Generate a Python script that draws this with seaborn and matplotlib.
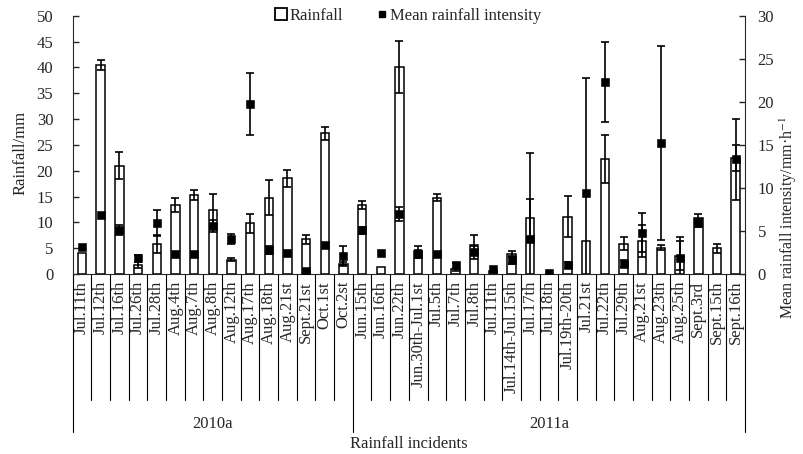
import numpy as np
import pandas as pd
import matplotlib
matplotlib.use("Agg")
import matplotlib.pyplot as plt
import seaborn as sns
from matplotlib.lines import Line2D
from matplotlib.transforms import blended_transform_factory

# %% data
labels_2010 = ["Jul.11th", "Jul.12th", "Jul.16th", "Jul.26th", "Jul.28th", "Aug.4th",
               "Aug.7th", "Aug.8th", "Aug.12th", "Aug.17th", "Aug.18th", "Aug.21st",
               "Sept.21st", "Oct.1st", "Oct.2st"]
rain_2010 = [4.1, 40.5, 21.0, 1.8, 5.8, 13.4, 15.3, 12.3, 2.8, 9.8, 14.8, 18.5, 6.7, 27.2, 2.0]
rain_err_2010 = [0, 1.0, 2.7, 0.6, 1.7, 1.4, 1.0, 3.2, 0.3, 1.8, 3.4, 1.6, 0.8, 1.2, 0.3]
int_2010 = [3.1, 6.8, 5.1, 1.8, 5.9, 2.3, 2.3, 5.6, 4.1, 19.7, 2.8, 2.4, 0.4, 3.4, 2.1]
int_err_2010 = [0, 0, 0.6, 0.4, 1.5, 0, 0, 0.7, 0.6, 3.6, 0.5, 0, 0, 0, 1.2]

labels_2011 = ["Jun.15th", "Jun.16th", "Jun.22th", "Jun.30th-Jul.1st", "Jul.5th", "Jul.7th",
               "Jul.8th", "Jul.11th", "Jul.14th-Jul.15th", "Jul.17th", "Jul.18th",
               "Jul.19th-20th", "Jul.21st", "Jul.22th", "Jul.29th", "Aug.21st", "Aug.23th",
               "Aug.25th", "Sept.3rd", "Sept.15th", "Sept.16th"]
rain_2011 = [13.4, 1.4, 40.1, 4.5, 14.8, 0.9, 5.6, 0.5, 3.9, 10.8, 0.0, 11.1, 6.4, 22.3,
             5.9, 6.4, 5.1, 3.5, 10.9, 5.0, 22.5]
rain_err_2011 = [0.8, 0, 5.0, 0.9, 0.6, 0.3, 1.9, 0, 0.5, 3.8, 0, 4.0, 0, 4.6, 1.2, 3.1,
                 0.5, 2.8, 0.8, 0.9, 2.5]
int_2011 = [5.1, 2.4, 7.0, 2.3, 2.3, 1.0, 2.5, 0.6, 1.6, 4.1, 0.15, 1.05, 9.4, 22.3, 1.2,
            4.8, 15.2, 1.8, 5.9, np.nan, 13.3]
int_err_2011 = [0.4, 0, 0.8, 0.5, 0, 0.3, 0.8, 0, 0.4, 10.0, 0, 0.4, 13.4, 4.7, 0.4, 2.3,
                11.3, 2.5, 0.5, 0, 4.7]

groups = ["2010a", "2011a"]

# %%
labels = labels_2010 + labels_2011
df = pd.DataFrame({
    "pos": np.arange(len(labels)),
    "rain": rain_2010 + rain_2011,
    "rain_err": rain_err_2010 + rain_err_2011,
    "intensity": int_2010 + int_2011,
    "int_err": int_err_2010 + int_err_2011,
})

sns.set_style("ticks")
plt.rcParams["font.family"] = ["Liberation Serif", "DejaVu Serif"]
plt.rcParams["mathtext.fontset"] = "stix"
plt.rcParams["font.size"] = 12

fig, ax = plt.subplots(figsize=(8.04, 4.54), dpi=100)
fig.subplots_adjust(left=0.0904, right=0.9266, top=0.9654, bottom=0.3965)

sns.barplot(data=df, x="pos", y="rain", color="white", edgecolor="black", linewidth=1.1,
            width=0.45, saturation=1, errorbar=None, ax=ax)
e = df[df.rain_err > 0]
ax.errorbar(e.pos, e.rain, yerr=e.rain_err, fmt="none", ecolor="black", elinewidth=1.2,
            capsize=2.6, capthick=1.2, zorder=3)

ax2 = ax.twinx()
e2 = df[df.int_err > 0]
ax2.errorbar(e2.pos, e2.intensity, yerr=e2.int_err, fmt="none", ecolor="black",
             elinewidth=1.2, capsize=2.6, capthick=1.2)
sns.scatterplot(data=df, x="pos", y="intensity", marker="s", color="black", s=28,
                edgecolor="black", ax=ax2, zorder=4)

ax.set_ylim(0, 50)
ax.set_yticks(range(0, 51, 5))
ax2.set_ylim(0, 30)
ax2.set_yticks(range(0, 31, 5))
ax.set_xlim(-0.5, len(labels) - 0.5)
ax2.set_xlim(-0.5, len(labels) - 0.5)

for a in (ax, ax2):
    a.spines["top"].set_visible(False)
ax.tick_params(axis="y", direction="in", length=4, width=1, labelsize=12, pad=14)
ax2.tick_params(axis="y", direction="in", length=4, width=1, labelsize=12, pad=9)
ax.spines["right"].set_visible(False)
ax2.spines["left"].set_visible(False)
ax2.spines["bottom"].set_visible(False)

ax.set_xticks(df.pos)
ax.set_xticklabels(labels, rotation=90, fontsize=12, va="top")
ax.tick_params(axis="x", length=0, pad=5)
ax.set_xlabel("")
ax2.set_xlabel("")
ax.set_ylabel("Rainfall/mm", fontsize=12)
ax.yaxis.set_label_coords(-0.066, 0.47)
ax2.set_ylabel("Mean rainfall intensity/mm·h$^{-1}$", fontsize=11.5)
ax2.yaxis.set_label_coords(1.048, 0.22)

# separators under the axis
tr = blended_transform_factory(ax.transData, ax.transAxes)
n2010 = len(labels_2010)
for b in np.arange(len(labels) + 1) - 0.5:
    low = -0.612 if b in (-0.5, n2010 - 0.5, len(labels) - 0.5) else -0.488
    ax.add_line(Line2D([b, b], [0, low], transform=tr, color="black", lw=0.8,
                       clip_on=False))
ax.text((n2010 - 1) / 2, -0.58, groups[0], transform=tr, ha="center", va="center",
        fontsize=12)
ax.text(n2010 + (len(labels_2011) - 1) / 2, -0.58, groups[1], transform=tr,
        ha="center", va="center", fontsize=12)
ax.text(0.5, -0.66, "Rainfall incidents", transform=ax.transAxes, ha="center",
        va="center", fontsize=12)

handles = [
    Line2D([], [], marker="s", color="none", markerfacecolor="white",
           markeredgecolor="black", markersize=8, markeredgewidth=1.3),
    Line2D([], [], marker="s", color="none", markerfacecolor="black",
           markeredgecolor="black", markersize=5),
]
ax2.legend(handles, ["Rainfall", "Mean rainfall intensity"], loc="center",
           bbox_to_anchor=(0.5, 1.0), ncol=2, frameon=False, handlelength=0.6,
           handletextpad=0.2, columnspacing=2.0, fontsize=12)

fig.savefig("out.png", dpi=100)
